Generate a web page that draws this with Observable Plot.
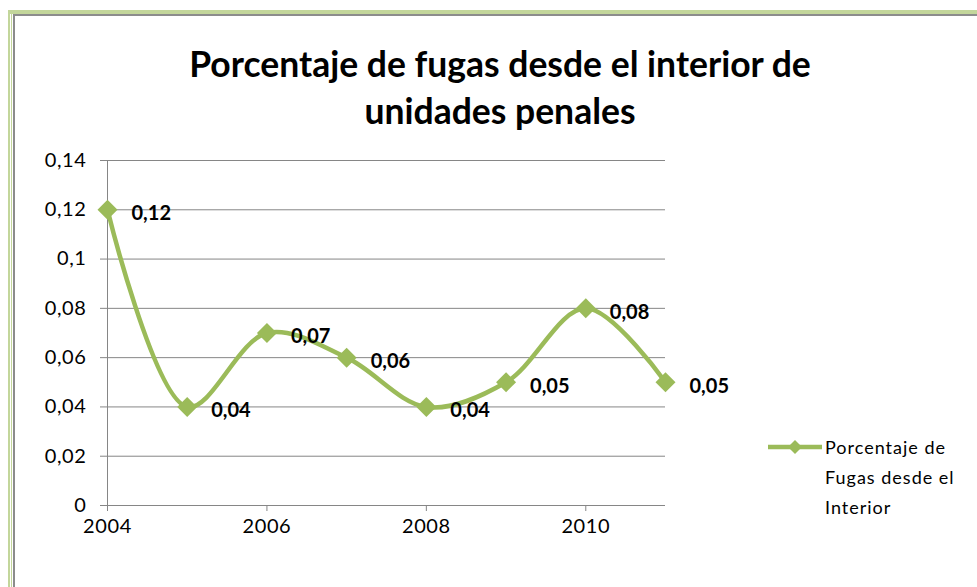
<!DOCTYPE html>
<html>
<head>
<meta charset="utf-8">
<script src="https://cdn.jsdelivr.net/npm/d3@7"></script>
<script src="https://cdn.jsdelivr.net/npm/@observablehq/plot@0.6"></script>
<style>
  html, body { margin: 0; padding: 0; background: #fff; }
  #wrap { position: relative; width: 977px; height: 587px; overflow: hidden; font-family: Lato, "Open Sans", sans-serif; }
  #frameG { position: absolute; left: 8px; top: 10px; width: 1000px; height: 600px; border-left: 2px solid #C3D69B; border-top: 4px solid #C3D69B; }
  #frameG2 { position: absolute; left: 11px; top: 14px; width: 1000px; height: 600px; border-left: 1.5px solid #C3D69B; }
  #frameI { position: absolute; left: 13px; top: 14px; width: 1000px; height: 600px; border-left: 2px solid #8c8c8c; border-top: 2px solid #8c8c8c; }
  #title { position: absolute; left: 0; width: 1000px; top: 40px; text-align: center; font-weight: bold; font-size: 35.5px; line-height: 47px; color: #000; }
  #chart { position: absolute; left: 0; top: 0; }
  #chart svg [aria-label*="axis"] text { letter-spacing: 0.6px; }
  #legend { position: absolute; left: 768px; top: 432px; }
  #legend .txt { position: absolute; left: 57px; top: 0; font-size: 18px; letter-spacing: 1px; line-height: 30px; white-space: nowrap; color: #000; }
</style>
</head>
<body>
<div id="wrap">
  <div id="frameG"></div>
  <div id="frameG2"></div>
  <div id="frameI"></div>
  <div id="chart"></div>
  <div id="title">Porcentaje de fugas desde el interior de<br>unidades penales</div>
  <div id="legend">
    <svg width="56" height="30" style="position:absolute;left:0;top:0">
      <line x1="0" y1="15" x2="54" y2="15" stroke="#9BBB59" stroke-width="4.5"/>
      <path d="M27,8 L34,15 L27,22 L20,15 Z" fill="#9BBB59"/>
    </svg>
    <div class="txt">Porcentaje de<br>Fugas desde el<br>Interior</div>
  </div>
</div>
<script>
const years = [2004, 2005, 2006, 2007, 2008, 2009, 2010, 2011];
const values = [0.12, 0.04, 0.07, 0.06, 0.04, 0.05, 0.08, 0.05];
const valueLabels = ["0,12", "0,04", "0,07", "0,06", "0,04", "0,05", "0,08", "0,05"];
const yTicks = [0, 0.02, 0.04, 0.06, 0.08, 0.1, 0.12, 0.14];
const yTickLabels = ["0", "0,02", "0,04", "0,06", "0,08", "0,1", "0,12", "0,14"];
const xTicks = [2004, 2006, 2008, 2010];

const data = years.map((y, i) => ({year: y, value: values[i], label: valueLabels[i]}));
const green = "#9BBB59";

const plot = Plot.plot({
  width: 977,
  height: 587,
  marginLeft: 107,
  marginRight: 312,
  marginTop: 160,
  marginBottom: 82,
  style: {fontFamily: "Lato, 'Open Sans', sans-serif", fontSize: "20px", background: "transparent", color: "#000"},
  x: {domain: [2004, 2011], label: null},
  y: {domain: [0, 0.14], label: null},
  marks: [
    Plot.ruleY(yTicks, {stroke: "#868686", strokeWidth: 1}),
    Plot.ruleX([2004], {stroke: "#868686", strokeWidth: 1}),
    Plot.axisY({ticks: yTicks, tickFormat: d => yTickLabels[yTicks.indexOf(d)], tickSize: 7, tickPadding: 14, stroke: "#868686", label: null, fontSize: 20}),
    Plot.axisX({ticks: xTicks, tickFormat: d => String(d), tickSize: 6, tickPadding: 7, stroke: "#868686", label: null, fontSize: 20}),
    Plot.line(data, {x: "year", y: "value", stroke: green, strokeWidth: 4.5, curve: "catmull-rom"}),
    Plot.dot(data, {x: "year", y: "value", symbol: "diamond2", r: 9, fill: green, stroke: null}),
    Plot.text(data, {x: "year", y: "value", text: "label", dx: 24, dy: 4, textAnchor: "start", fontWeight: "bold", fontSize: 20, fill: "#000"})
  ]
});
document.getElementById("chart").appendChild(plot);
</script>
</body>
</html>
